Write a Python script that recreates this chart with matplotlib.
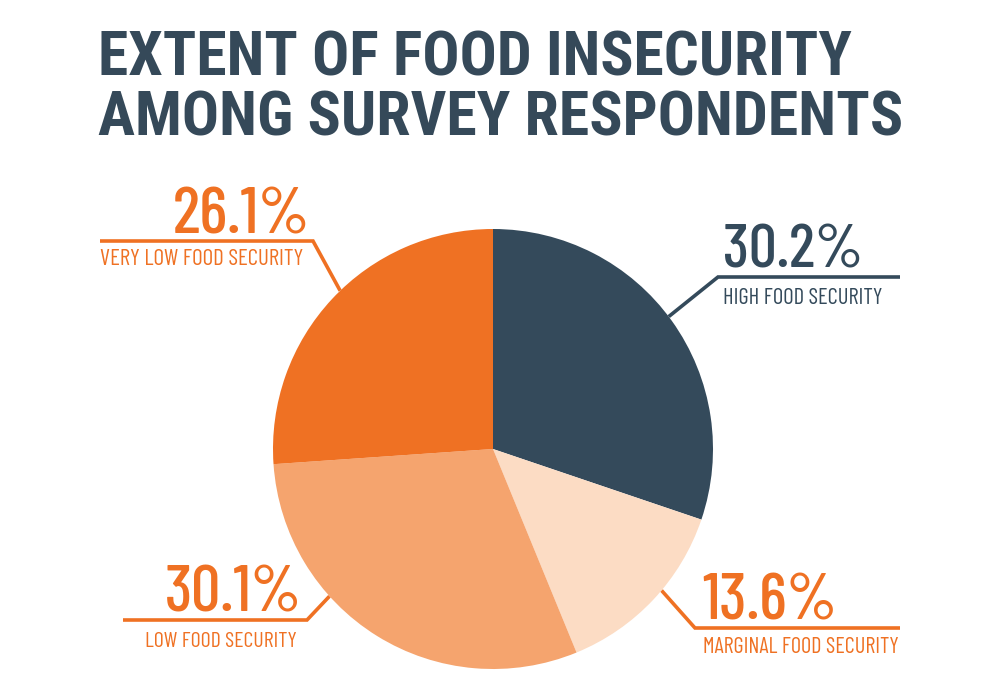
import numpy as np
import matplotlib
matplotlib.use("Agg")
import matplotlib.pyplot as plt

# data
categories = ["HIGH FOOD SECURITY", "MARGINAL FOOD SECURITY", "LOW FOOD SECURITY", "VERY LOW FOOD SECURITY"]
shares = [30.2, 13.6, 30.1, 26.1]
slice_colors = ["#344a5b", "#fcdcc4", "#f5a46e", "#ef7123"]
label_colors = ["#344a5b", "#ef7123", "#ef7123", "#ef7123"]
title_lines = ["EXTENT OF FOOD INSECURITY", "AMONG SURVEY RESPONDENTS"]

W, H = 1000, 684
DARK = "#354959"
TITLE_FONT = "Roboto Condensed"
LABEL_FONT = "Barlow Condensed"

fig = plt.figure(figsize=(W / 100, H / 100), dpi=100)
ax = fig.add_axes([0, 0, 1, 1])

# pie in pixel coordinates, y axis pointing down
cx, cy, r = 493, 449, 220
wedges, _ = ax.pie(shares, colors=slice_colors, startangle=-90, counterclock=True,
                   center=(cx, cy), radius=r, frame=True,
                   wedgeprops=dict(linewidth=0, zorder=3))
ax.set_xlim(0, W)
ax.set_ylim(H, 0)
ax.axis("off")

renderer = fig.canvas.get_renderer()


def fit_text(x, y, s, width, ha, size, family, **kw):
    # draw text then scale so that its ink width matches the target width
    t = ax.text(x, y, s, ha=ha, va="baseline", fontsize=size, family=family, **kw)
    bb = t.get_window_extent(renderer)
    t.set_fontsize(size * width / bb.width)
    return t


# title
fit_text(98, 75, title_lines[0], 754, "left", 45, TITLE_FONT, weight="bold", color=DARK)
fit_text(98, 135, title_lines[1], 807, "left", 45, TITLE_FONT, weight="bold", color=DARK)

# label layout: leader angle on the pie edge, elbow, line end, number box, label box
layout = [
    # HIGH
    dict(ang=-37, elbow=(718, 277), end=900, num=(723, 267, 140, "left"), lab=(723, 304, 159, "left")),
    # MARGINAL
    dict(ang=40, elbow=(695, 628), end=900, num=(702, 620, 135, "left"), lab=(703, 653, 195, "left")),
    # LOW
    dict(ang=138, elbow=(307, 620), end=123, num=(302, 612, 137, "right"), lab=(297, 647, 151, "right")),
    # VERY LOW
    dict(ang=226, elbow=(313, 241), end=100, num=(310, 233, 137, "right"), lab=(303, 265, 203, "right")),
]

for cat, val, col, lay in zip(categories, shares, label_colors, layout):
    a = np.deg2rad(lay["ang"])
    px, py = cx + r * np.cos(a), cy + r * np.sin(a)
    ex, ey = lay["elbow"]
    ax.plot([px, ex, lay["end"]], [py, ey, ey], color=col, lw=2.6,
            solid_joinstyle="miter", solid_capstyle="butt", zorder=2)
    nx, ny, nw, nha = lay["num"]
    fit_text(nx, ny, f"{val:.1f}%", nw, nha, 50, LABEL_FONT, weight="medium", color=col)
    lx, ly, lw_, lha = lay["lab"]
    fit_text(lx, ly, cat, lw_, lha, 18, LABEL_FONT, weight="normal", color=col)

fig.savefig("out.png", dpi=100, facecolor="white")
